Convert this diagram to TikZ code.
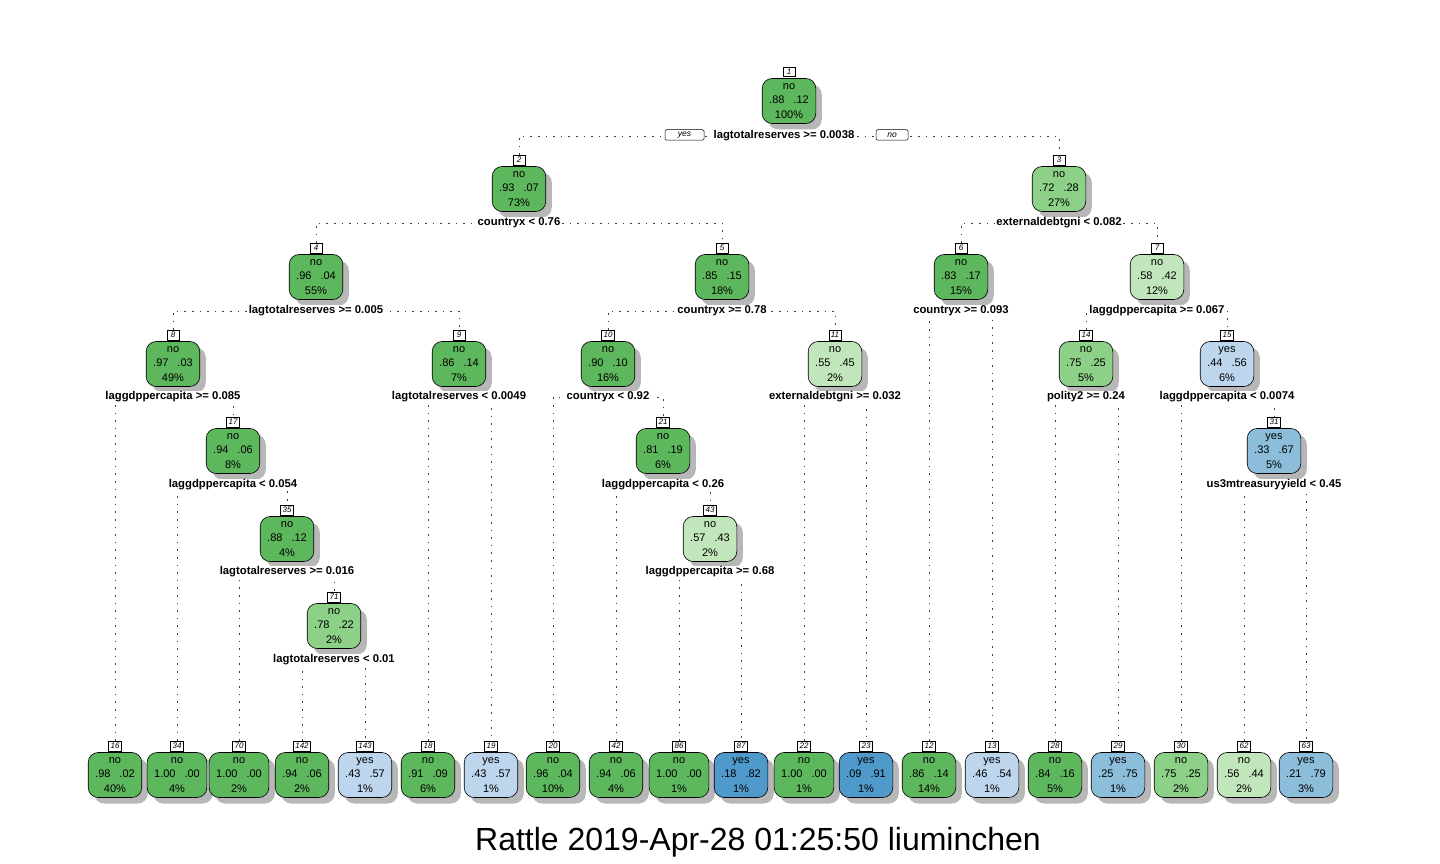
\documentclass[tikz,border=0pt]{standalone}
\usepackage{fontspec}
\setmainfont{Liberation Sans}
\usetikzlibrary{shadows}
\pgfdeclarelayer{bg}
\pgfsetlayers{bg,main}
\definecolor{gdark}{HTML}{5DB75D}
\definecolor{gmid}{HTML}{8DD087}
\definecolor{glight}{HTML}{C2E6BB}
\definecolor{blight}{HTML}{BED5EE}
\definecolor{bmid}{HTML}{8CBEDB}
\definecolor{bdark}{HTML}{4F9ACB}
\tikzset{
  tnode/.style={draw=black, line width=0.6pt, rounded corners=10pt,
    minimum height=45pt, minimum width=50pt, inner xsep=7pt, inner ysep=2pt,
    align=center, font=\fontsize{11}{14.5}\selectfont,
    drop shadow={shadow xshift=6pt, shadow yshift=-6pt, fill=black!40, opacity=0.7}},
  tag/.style={draw=black, line width=0.5pt, fill=white, inner xsep=2pt, inner ysep=0pt,
    minimum height=9.5pt, minimum width=12pt, font=\fontsize{8}{8}\selectfont\itshape},
  split/.style={fill=white, inner xsep=1.5pt, inner ysep=1pt, font=\fontsize{11.3}{12}\selectfont\bfseries},
  yn/.style={draw=black, line width=0.5pt, fill=white, rounded corners=1.5pt, inner sep=0pt,
    minimum height=10.5pt, font=\fontsize{8.5}{9}\selectfont\itshape},
  branch/.style={draw=black!75, line width=0.8pt, dash pattern=on 1.6pt off 6pt},
}
\newcommand\TNode[8]{%
  \node[tnode, fill=#4] (n#1) at (#2,#3) {#5\\#6\hspace{9pt}#7\\#8\%};
  \node[tag] (t#1) at (#2,#3-29) {#1};
}
\begin{document}
\begin{tikzpicture}[x=1pt,y=-1pt]
\useasboundingbox (0,0) rectangle (1440,864);

% internal nodes
\TNode{1}{789}{101}{gdark}{no}{.88}{.12}{100}
\TNode{2}{519}{189}{gdark}{no}{.93}{.07}{73}
\TNode{3}{1059}{189}{gmid}{no}{.72}{.28}{27}
\TNode{4}{316}{277}{gdark}{no}{.96}{.04}{55}
\TNode{5}{722}{277}{gdark}{no}{.85}{.15}{18}
\TNode{6}{961}{277}{gdark}{no}{.83}{.17}{15}
\TNode{7}{1157}{277}{glight}{no}{.58}{.42}{12}
\TNode{8}{173}{364}{gdark}{no}{.97}{.03}{49}
\TNode{9}{459}{364}{gdark}{no}{.86}{.14}{7}
\TNode{10}{608}{364}{gdark}{no}{.90}{.10}{16}
\TNode{11}{835}{364}{glight}{no}{.55}{.45}{2}
\TNode{14}{1086}{364}{gmid}{no}{.75}{.25}{5}
\TNode{15}{1227}{364}{blight}{yes}{.44}{.56}{6}
\TNode{17}{233}{451}{gdark}{no}{.94}{.06}{8}
\TNode{21}{663}{451}{gdark}{no}{.81}{.19}{6}
\TNode{31}{1274}{451}{bmid}{yes}{.33}{.67}{5}
\TNode{35}{287}{539}{gdark}{no}{.88}{.12}{4}
\TNode{43}{710}{539}{glight}{no}{.57}{.43}{2}
\TNode{71}{334}{626}{gmid}{no}{.78}{.22}{2}

% leaves
\TNode{16}{115}{775}{gdark}{no}{.98}{.02}{40}
\TNode{34}{177}{775}{gdark}{no}{1.00}{.00}{4}
\TNode{70}{239}{775}{gdark}{no}{1.00}{.00}{2}
\TNode{142}{302}{775}{gdark}{no}{.94}{.06}{2}
\TNode{143}{365}{775}{blight}{yes}{.43}{.57}{1}
\TNode{18}{428}{775}{gdark}{no}{.91}{.09}{6}
\TNode{19}{491}{775}{blight}{yes}{.43}{.57}{1}
\TNode{20}{553}{775}{gdark}{no}{.96}{.04}{10}
\TNode{42}{616}{775}{gdark}{no}{.94}{.06}{4}
\TNode{86}{679}{775}{gdark}{no}{1.00}{.00}{1}
\TNode{87}{741}{775}{bdark}{yes}{.18}{.82}{1}
\TNode{22}{804}{775}{gdark}{no}{1.00}{.00}{1}
\TNode{23}{866}{775}{bdark}{yes}{.09}{.91}{1}
\TNode{12}{929}{775}{gdark}{no}{.86}{.14}{14}
\TNode{13}{992}{775}{blight}{yes}{.46}{.54}{1}
\TNode{28}{1055}{775}{gdark}{no}{.84}{.16}{5}
\TNode{29}{1118}{775}{bmid}{yes}{.25}{.75}{1}
\TNode{30}{1181}{775}{gmid}{no}{.75}{.25}{2}
\TNode{62}{1244}{775}{glight}{no}{.56}{.44}{2}
\TNode{63}{1306}{775}{bmid}{yes}{.21}{.79}{3}

% split labels
\node[split] (s1) at (784,136) {lagtotalreserves >= 0.0038};
\node[split] (s2) at (519,223) {countryx < 0.76};
\node[split] (s3) at (1059,223) {externaldebtgni < 0.082};
\node[split] (s4) at (316,311) {lagtotalreserves >= 0.005};
\node[split] (s5) at (722,311) {countryx >= 0.78};
\node[split] (s6) at (961,311) {countryx >= 0.093};
\node[split] (s7) at (1157,311) {laggdppercapita >= 0.067};
\node[split] (s8) at (173,397) {laggdppercapita >= 0.085};
\node[split] (s9) at (459,397) {lagtotalreserves < 0.0049};
\node[split] (s10) at (608,397) {countryx < 0.92};
\node[split] (s11) at (835,397) {externaldebtgni >= 0.032};
\node[split] (s14) at (1086,397) {polity2 >= 0.24};
\node[split] (s15) at (1227,397) {laggdppercapita < 0.0074};
\node[split] (s17) at (233,485) {laggdppercapita < 0.054};
\node[split] (s21) at (663,485) {laggdppercapita < 0.26};
\node[split] (s31) at (1274,485) {us3mtreasuryyield < 0.45};
\node[split] (s35) at (287,572) {lagtotalreserves >= 0.016};
\node[split] (s43) at (710,572) {laggdppercapita >= 0.68};
\node[split] (s71) at (334,660) {lagtotalreserves < 0.01};

\node[yn, minimum width=39pt] (yes1) at (684.5,135) {yes};
\node[yn, minimum width=32pt] (no1) at (892,135) {no};

% branches
\begin{pgfonlayer}{bg}
\fill[white] (0,0) rectangle (1440,864);
\draw[branch] (t2.north) |- (s1.center) -| (t3.north);
\draw[branch] (t4.north) |- (s2.center) -| (t5.north);
\draw[branch] (t6.north) |- (s3.center) -| (t7.north);
\draw[branch] (t8.north) |- (s4.center) -| (t9.north);
\draw[branch] (t10.north) |- (s5.center) -| (t11.north);
\draw[branch] (t12.north) |- (s6.center) -| (t13.north);
\draw[branch] (t14.north) |- (s7.center) -| (t15.north);
\draw[branch] (t16.north) |- (s8.center) -| (t17.north);
\draw[branch] (t18.north) |- (s9.center) -| (t19.north);
\draw[branch] (t20.north) |- (s10.center) -| (t21.north);
\draw[branch] (t22.north) |- (s11.center) -| (t23.north);
\draw[branch] (t28.north) |- (s14.center) -| (t29.north);
\draw[branch] (t30.north) |- (s15.center) -| (t31.north);
\draw[branch] (t34.north) |- (s17.center) -| (t35.north);
\draw[branch] (t42.north) |- (s21.center) -| (t43.north);
\draw[branch] (t62.north) |- (s31.center) -| (t63.north);
\draw[branch] (t70.north) |- (s35.center) -| (t71.north);
\draw[branch] (t86.north) |- (s43.center) -| (t87.north);
\draw[branch] (t142.north) |- (s71.center) -| (t143.north);
\end{pgfonlayer}

\node[font=\fontsize{32}{36}\selectfont] (title) at (758,842) {Rattle 2019-Apr-28 01:25:50 liuminchen};
\end{tikzpicture}
\end{document}
